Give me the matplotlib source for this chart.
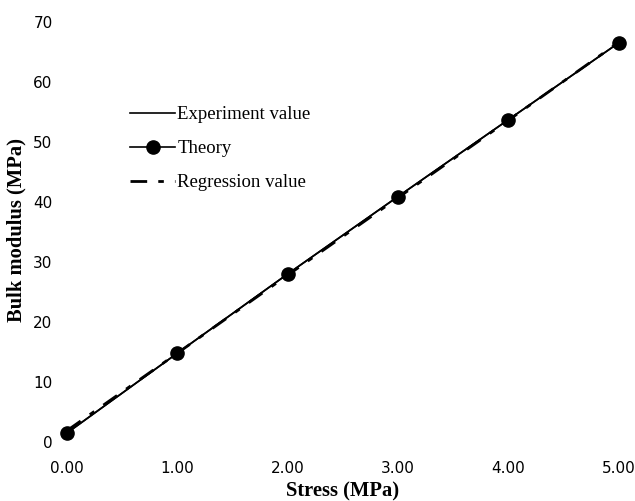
import numpy as np
from matplotlib import pyplot as plt

# stress (MPa)
stress = np.array([0.0, 1.0, 2.0, 3.0, 4.0, 5.0])
# bulk modulus (MPa)
experiment = np.array([1.5, 14.8, 28.0, 40.9, 53.7, 66.5])
theory = np.array([1.5, 14.8, 28.0, 40.9, 53.7, 66.5])
regression = np.array([1.9, 14.8, 27.8, 40.7, 53.6, 66.6])

xticks = [0, 1, 2, 3, 4, 5]
xticklabels = ["0.00", "1.00", "2.00", "3.00", "4.00", "5.00"]
yticks = [0, 10, 20, 30, 40, 50, 60, 70]

fig = plt.figure(figsize=(6.35, 5.01), dpi=100)
W, H = 635, 501
# axes placed in pixel coords: left 54, right 629, top 22, bottom 442
ax = fig.add_axes([54 / W, (H - 442) / H, 575 / W, 420 / H])

ax.plot(stress, experiment, color="black", lw=1.2, label="Experiment value")
ax.plot(stress, theory, color="black", lw=1.2, marker="o", ms=9.5,
        label="Theory")
ax.plot(stress, regression, color="black", lw=2.0,
        linestyle=(0, (6, 4, 2, 4)), label="Regression value")

ax.set_xlim(-0.118, 5.095)
ax.set_ylim(0, 70)
ax.set_xticks(xticks)
ax.set_xticklabels(xticklabels)
ax.set_yticks(yticks)
ax.tick_params(length=0, labelsize=11)
ax.tick_params(axis="x", pad=14)
ax.tick_params(axis="y", pad=1)
for s in ax.spines.values():
    s.set_visible(False)

# axis titles
fig.text(343 / W, (H - 491) / H, "Stress (MPa)", family="Liberation Serif",
         fontweight="bold", fontsize=14.8, ha="center", va="center")
fig.text(16 / W, (H - 230) / H, "Bulk modulus (MPa)", family="Liberation Serif",
         fontweight="bold", fontsize=14.8, ha="center", va="center",
         rotation=90)

leg = ax.legend(loc="upper left", bbox_to_anchor=(130 / W, (H - 106) / H),
                bbox_transform=fig.transFigure, frameon=False,
                prop={"family": "Liberation Serif", "size": 13.5},
                handlelength=2.4, handletextpad=0.12, labelspacing=0.9,
                borderpad=0, borderaxespad=0)

fig.savefig("out.png", dpi=100)
